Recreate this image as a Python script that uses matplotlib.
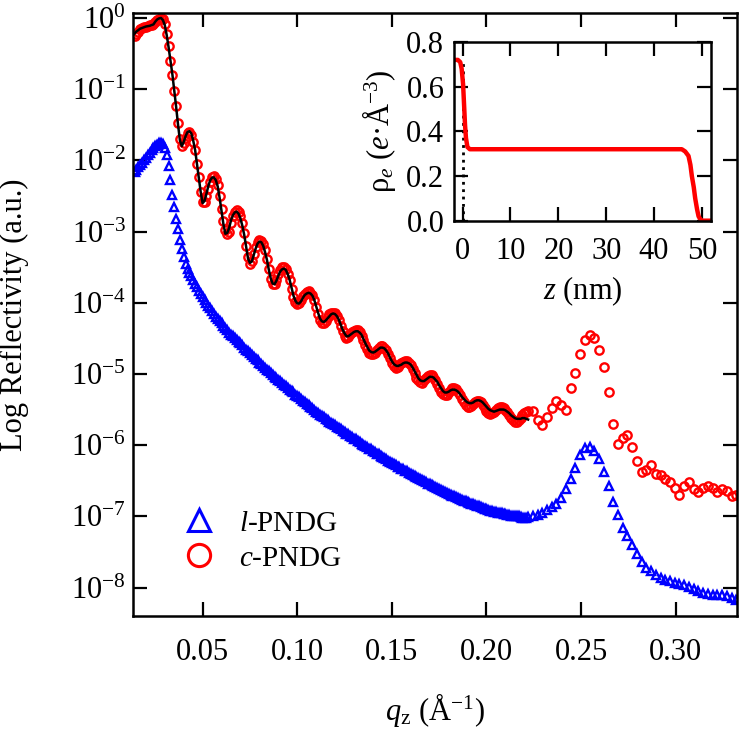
import numpy as np
import matplotlib
matplotlib.use('Agg')
import matplotlib.pyplot as plt
from matplotlib.lines import Line2D
from matplotlib.ticker import FixedLocator, FuncFormatter, NullLocator

plt.rcParams['font.family'] = ['Liberation Serif', 'DejaVu Serif']
plt.rcParams['mathtext.fontset'] = 'custom'
plt.rcParams['mathtext.rm'] = 'Liberation Serif'
plt.rcParams['mathtext.it'] = 'Liberation Serif:italic'
plt.rcParams['axes.unicode_minus'] = False

# q grid of the dense part, even thousandths
q_even = [0.014, 0.016, 0.018, 0.020, 0.022, 0.024, 0.026, 0.028, 0.030, 0.032,
          0.034, 0.036, 0.038, 0.040, 0.042, 0.044, 0.046, 0.048, 0.050, 0.052,
          0.054, 0.056, 0.058, 0.060, 0.062, 0.064, 0.066, 0.068, 0.070, 0.072,
          0.074, 0.076, 0.078, 0.080, 0.082, 0.084, 0.086, 0.088, 0.090, 0.092,
          0.094, 0.096, 0.098, 0.100, 0.102, 0.104, 0.106, 0.108, 0.110, 0.112,
          0.114, 0.116, 0.118, 0.120, 0.122, 0.124, 0.126, 0.128, 0.130, 0.132,
          0.134, 0.136, 0.138, 0.140, 0.142, 0.144, 0.146, 0.148, 0.150, 0.152,
          0.154, 0.156, 0.158, 0.160, 0.162, 0.164, 0.166, 0.168, 0.170, 0.172,
          0.174, 0.176, 0.178, 0.180, 0.182, 0.184, 0.186, 0.188, 0.190, 0.192,
          0.194, 0.196, 0.198, 0.200, 0.202, 0.204, 0.206, 0.208, 0.210, 0.212,
          0.214, 0.216, 0.218, 0.220, 0.222]
# q grid of the dense part, odd thousandths
q_odd = [0.015, 0.017, 0.019, 0.021, 0.023, 0.025, 0.027, 0.029, 0.031, 0.033,
         0.035, 0.037, 0.039, 0.041, 0.043, 0.045, 0.047, 0.049, 0.051, 0.053,
         0.055, 0.057, 0.059, 0.061, 0.063, 0.065, 0.067, 0.069, 0.071, 0.073,
         0.075, 0.077, 0.079, 0.081, 0.083, 0.085, 0.087, 0.089, 0.091, 0.093,
         0.095, 0.097, 0.099, 0.101, 0.103, 0.105, 0.107, 0.109, 0.111, 0.113,
         0.115, 0.117, 0.119, 0.121, 0.123, 0.125, 0.127, 0.129, 0.131, 0.133,
         0.135, 0.137, 0.139, 0.141, 0.143, 0.145, 0.147, 0.149, 0.151, 0.153,
         0.155, 0.157, 0.159, 0.161, 0.163, 0.165, 0.167, 0.169, 0.171, 0.173,
         0.175, 0.177, 0.179, 0.181, 0.183, 0.185, 0.187, 0.189, 0.191, 0.193,
         0.195, 0.197, 0.199, 0.201, 0.203, 0.205, 0.207, 0.209, 0.211, 0.213,
         0.215, 0.217, 0.219, 0.221]
# q grid of the sparser high-q part
q_high = [0.2245, 0.2270, 0.2295, 0.2320, 0.2345, 0.2370, 0.2395, 0.2420, 0.2445, 0.2470,
          0.2495, 0.2520, 0.2545, 0.2570, 0.2595, 0.2620, 0.2645, 0.2670, 0.2695, 0.2720,
          0.2745, 0.2770, 0.2795, 0.2820, 0.2845, 0.2870, 0.2895, 0.2920, 0.2945, 0.2970,
          0.2995, 0.3020, 0.3045, 0.3070, 0.3095, 0.3120, 0.3145, 0.3170, 0.3195, 0.3220,
          0.3245, 0.3270, 0.3295, 0.3320]

# log10 reflectivity, c-PNDG (red circles)
logR_c_even = [-0.25, -0.19, -0.14, -0.12, -0.10, -0.09, -0.03, 0.00, -0.08, -0.40,
               -0.80, -1.24, -1.70, -1.76, -1.62, -1.64, -1.86, -2.24, -2.58, -2.50,
               -2.30, -2.22, -2.35, -2.68, -2.98, -3.00, -2.78, -2.70, -2.78, -3.02,
               -3.36, -3.42, -3.22, -3.12, -3.18, -3.38, -3.66, -3.74, -3.60, -3.50,
               -3.52, -3.68, -3.92, -4.02, -3.96, -3.87, -3.84, -3.89, -4.06, -4.24,
               -4.28, -4.20, -4.14, -4.15, -4.24, -4.40, -4.49, -4.44, -4.39, -4.38,
               -4.46, -4.59, -4.70, -4.72, -4.66, -4.61, -4.63, -4.72, -4.85, -4.91,
               -4.88, -4.83, -4.82, -4.87, -4.99, -5.09, -5.12, -5.06, -5.02, -5.04,
               -5.14, -5.25, -5.30, -5.26, -5.20, -5.21, -5.30, -5.40, -5.47, -5.45,
               -5.39, -5.38, -5.44, -5.52, -5.56, -5.53, -5.48, -5.47, -5.50, -5.58,
               -5.65, -5.67, -5.62, -5.55, -5.52]
logR_c_odd = [-0.22, -0.16, -0.13, -0.11, -0.10, -0.06, -0.01, -0.02, -0.22, -0.60,
              -1.02, -1.48, -1.80, -1.68, -1.60, -1.74, -2.05, -2.44, -2.58, -2.40,
              -2.24, -2.26, -2.50, -2.85, -3.04, -2.88, -2.72, -2.72, -2.88, -3.20,
              -3.46, -3.32, -3.15, -3.13, -3.26, -3.52, -3.74, -3.68, -3.54, -3.50,
              -3.59, -3.80, -3.99, -4.00, -3.91, -3.85, -3.86, -3.96, -4.16, -4.28,
              -4.25, -4.16, -4.14, -4.18, -4.32, -4.46, -4.48, -4.41, -4.38, -4.41,
              -4.52, -4.65, -4.72, -4.70, -4.63, -4.61, -4.67, -4.78, -4.89, -4.90,
              -4.85, -4.82, -4.84, -4.93, -5.05, -5.11, -5.09, -5.03, -5.02, -5.09,
              -5.20, -5.28, -5.29, -5.23, -5.20, -5.25, -5.35, -5.44, -5.47, -5.42,
              -5.38, -5.40, -5.48, -5.55, -5.55, -5.50, -5.47, -5.48, -5.54, -5.62,
              -5.67, -5.65, -5.58, -5.53]
logR_c_high = [-5.52, -5.64, -5.72, -5.60, -5.48, -5.38, -5.44, -5.50, -5.20, -4.98,
               -4.72, -4.53, -4.45, -4.50, -4.66, -4.90, -5.25, -5.70, -5.98, -5.90,
               -5.86, -6.02, -6.22, -6.38, -6.35, -6.28, -6.40, -6.42, -6.48, -6.52,
               -6.60, -6.70, -6.58, -6.52, -6.62, -6.66, -6.60, -6.58, -6.60, -6.66,
               -6.62, -6.64, -6.72, -6.70]

# log10 reflectivity, fit to c-PNDG (black line)
logR_fit_even = [-0.22, -0.17, -0.14, -0.12, -0.11, -0.09, -0.02, 0.00, -0.10, -0.41,
                 -0.79, -1.25, -1.72, -1.74, -1.60, -1.62, -1.85, -2.25, -2.60, -2.47,
                 -2.28, -2.24, -2.37, -2.72, -3.03, -2.95, -2.77, -2.72, -2.82, -3.05,
                 -3.38, -3.42, -3.24, -3.14, -3.20, -3.40, -3.66, -3.74, -3.62, -3.53,
                 -3.54, -3.68, -3.90, -4.01, -3.98, -3.89, -3.86, -3.90, -4.05, -4.22,
                 -4.27, -4.22, -4.16, -4.16, -4.24, -4.38, -4.47, -4.45, -4.41, -4.40,
                 -4.45, -4.57, -4.67, -4.70, -4.67, -4.63, -4.64, -4.71, -4.82, -4.88,
                 -4.88, -4.85, -4.84, -4.87, -4.96, -5.06, -5.10, -5.08, -5.04, -5.05,
                 -5.11, -5.20, -5.26, -5.25, -5.22, -5.23, -5.28, -5.35, -5.40, -5.41,
                 -5.38, -5.37, -5.40, -5.46, -5.51, -5.53, -5.51, -5.50, -5.51, -5.55,
                 -5.60, -5.63, -5.63, -5.62, -5.64]
logR_fit_odd = [-0.19, -0.15, -0.13, -0.115, -0.10, -0.05, -0.005, -0.03, -0.24, -0.60,
                -1.02, -1.50, -1.80, -1.66, -1.59, -1.72, -2.05, -2.45, -2.57, -2.36,
                -2.24, -2.28, -2.53, -2.90, -3.02, -2.84, -2.73, -2.75, -2.92, -3.22,
                -3.44, -3.33, -3.17, -3.15, -3.29, -3.54, -3.73, -3.69, -3.56, -3.52,
                -3.60, -3.79, -3.97, -4.01, -3.93, -3.87, -3.87, -3.96, -4.14, -4.26,
                -4.25, -4.19, -4.15, -4.19, -4.31, -4.43, -4.47, -4.43, -4.40, -4.42,
                -4.51, -4.62, -4.69, -4.69, -4.65, -4.63, -4.67, -4.77, -4.86, -4.89,
                -4.87, -4.84, -4.85, -4.91, -5.01, -5.09, -5.10, -5.06, -5.04, -5.08,
                -5.16, -5.24, -5.26, -5.23, -5.22, -5.25, -5.32, -5.38, -5.41, -5.40,
                -5.37, -5.38, -5.43, -5.49, -5.52, -5.52, -5.50, -5.50, -5.53, -5.58,
                -5.62, -5.63, -5.62, -5.63]

# log10 reflectivity, l-PNDG (blue triangles)
logR_l_even = [-2.17, -2.10, -2.03, -1.96, -1.89, -1.83, -1.78, -1.75, -1.82, -2.08,
               -2.48, -2.82, -3.12, -3.36, -3.52, -3.63, -3.73, -3.83, -3.92, -4.00,
               -4.08, -4.16, -4.23, -4.29, -4.35, -4.42, -4.47, -4.52, -4.57, -4.63,
               -4.68, -4.73, -4.79, -4.84, -4.89, -4.94, -4.99, -5.04, -5.08, -5.13,
               -5.17, -5.22, -5.26, -5.31, -5.35, -5.40, -5.44, -5.48, -5.53, -5.57,
               -5.61, -5.65, -5.69, -5.72, -5.76, -5.80, -5.84, -5.87, -5.91, -5.94,
               -5.98, -6.01, -6.05, -6.08, -6.12, -6.15, -6.18, -6.22, -6.25, -6.28,
               -6.31, -6.34, -6.37, -6.40, -6.43, -6.46, -6.49, -6.52, -6.55, -6.58,
               -6.60, -6.63, -6.66, -6.68, -6.71, -6.73, -6.75, -6.78, -6.80, -6.82,
               -6.84, -6.86, -6.88, -6.90, -6.92, -6.94, -6.95, -6.96, -6.97, -6.98,
               -6.99, -7.00, -7.01, -7.02, -7.01]
logR_l_odd = [-2.13, -2.06, -2.00, -1.92, -1.86, -1.80, -1.76, -1.77, -1.93, -2.28,
              -2.66, -2.97, -3.25, -3.45, -3.58, -3.68, -3.78, -3.88, -3.96, -4.04,
              -4.12, -4.20, -4.26, -4.32, -4.38, -4.45, -4.50, -4.55, -4.60, -4.66,
              -4.71, -4.76, -4.81, -4.86, -4.91, -4.96, -5.02, -5.06, -5.10, -5.15,
              -5.20, -5.24, -5.29, -5.33, -5.38, -5.42, -5.46, -5.51, -5.55, -5.59,
              -5.63, -5.67, -5.70, -5.74, -5.78, -5.82, -5.85, -5.89, -5.92, -5.96,
              -6.00, -6.03, -6.06, -6.10, -6.13, -6.17, -6.20, -6.23, -6.27, -6.30,
              -6.33, -6.36, -6.39, -6.42, -6.45, -6.48, -6.51, -6.54, -6.56, -6.59,
              -6.62, -6.64, -6.67, -6.70, -6.72, -6.74, -6.77, -6.79, -6.81, -6.83,
              -6.85, -6.87, -6.89, -6.91, -6.93, -6.94, -6.96, -6.97, -6.98, -6.99,
              -7.00, -7.00, -7.02, -7.02]
logR_l_high = [-7.00, -6.98, -6.95, -6.91, -6.87, -6.82, -6.74, -6.62, -6.48, -6.32,
               -6.14, -6.04, -6.02, -6.08, -6.20, -6.38, -6.58, -6.80, -6.98, -7.16,
               -7.28, -7.40, -7.53, -7.64, -7.72, -7.77, -7.82, -7.86, -7.89, -7.91,
               -7.93, -7.95, -7.97, -7.99, -8.02, -8.05, -8.07, -8.09, -8.10, -8.10,
               -8.11, -8.12, -8.15, -8.17]

# electron density profile (inset)
z_nm = [-1.6, -1.0, -0.5, -0.2, 0.1, 0.3, 0.5, 0.7, 1.0, 1.5, 5.0, 10.0, 20.0, 30.0,
        40.0, 45.0, 45.8, 46.5, 47.2, 47.6, 47.9, 48.3, 48.6, 49.0, 49.3, 49.7,
        50.0, 51.0, 51.7]
rho_e = [0.72, 0.72, 0.71, 0.68, 0.61, 0.52, 0.43, 0.37, 0.33, 0.32, 0.32, 0.32, 0.32,
         0.32, 0.32, 0.32, 0.32, 0.31, 0.29, 0.25, 0.20, 0.15, 0.10, 0.05, 0.02,
         0.005, 0.0, 0.0, 0.0]

fig = plt.figure(figsize=(7.41, 7.31), dpi=100)
ax = fig.add_axes([0.1795, 0.1573, 0.8151, 0.8249])

q_all = q_even + q_odd + q_high
ax.plot(q_all, 10 ** np.array(logR_l_even + logR_l_odd + logR_l_high), ls='none',
        marker='^', ms=5.8, mfc='none', mec='#0000ff', mew=1.7)
ax.plot(q_all, 10 ** np.array(logR_c_even + logR_c_odd + logR_c_high), ls='none',
        marker='o', ms=6, mfc='none', mec='#ff0000', mew=1.7)

# fit line, sorted along q
q_fit = np.array(q_even + q_odd)
logR_fit = np.array(logR_fit_even + logR_fit_odd)
order = np.argsort(q_fit)
ax.plot(q_fit[order], 10 ** logR_fit[order], color='k', lw=1.8)

ax.set_yscale('log')
ax.set_xlim(0.0132, 0.3324)
ax.set_ylim(10 ** -8.4, 10 ** 0.07)
ax.xaxis.set_major_locator(FixedLocator([0.05, 0.10, 0.15, 0.20, 0.25, 0.30]))
ax.xaxis.set_major_formatter(FuncFormatter(lambda v, p: '%.2f' % v))
ax.yaxis.set_major_locator(FixedLocator([10.0 ** k for k in range(-8, 1)]))
ax.yaxis.set_major_formatter(FuncFormatter(
    lambda v, p: r'$\mathregular{10^{%d}}$' % round(np.log10(v))))
ax.yaxis.set_minor_locator(NullLocator())
ax.tick_params(which='both', direction='in', length=10, width=1.6,
               top=True, right=True, labelsize=22)
ax.tick_params(axis='x', pad=16)
ax.tick_params(axis='y', pad=5)
for s in ax.spines.values():
    s.set_linewidth(1.8)

ax.set_xlabel(r'$q_{\mathrm{z}}$ (Å$^{-1}$)', fontsize=22, labelpad=17)
ax.set_ylabel('Log Reflectivity (a.u.)', fontsize=22)
ax.yaxis.set_label_coords(-0.172, 0.5)

handles = [Line2D([], [], ls='none', marker='^', ms=16, mfc='none', mec='#0000ff', mew=2.2),
           Line2D([], [], ls='none', marker='o', ms=16, mfc='none', mec='#ff0000', mew=2.2)]
ax.legend(handles, [r'$l$-PNDG', r'$c$-PNDG'], loc='lower left',
          bbox_to_anchor=(0.03, 0.03), frameon=False, fontsize=21,
          handletextpad=0.6, labelspacing=0.3, handlelength=1.5)

# inset: electron density profile
ins = fig.add_axes([0.6127, 0.6981, 0.3468, 0.2444])
ins.plot([0, 0], [0, 0.72], color='k', ls=':', lw=2)
ins.plot(z_nm, rho_e, color='#ff0000', lw=3.2)
ins.set_xlim(-1.8, 51.9)
ins.set_ylim(0, 0.8)
ins.set_xticks([0, 10, 20, 30, 40, 50])
ins.set_yticks([0.0, 0.2, 0.4, 0.6, 0.8])
ins.yaxis.set_major_formatter(FuncFormatter(lambda v, p: '%.1f' % v))
ins.tick_params(direction='in', length=10, width=1.6, top=True, right=True,
                labelsize=22)
ins.tick_params(axis='x', pad=12)
ins.tick_params(axis='y', pad=7)
for s in ins.spines.values():
    s.set_linewidth(1.8)
ins.set_xlabel(r'$z$ (nm)', fontsize=22, labelpad=6)
ins.set_ylabel(r'ρ$_{e}$ ($e$·Å$^{-3}$)', fontsize=22, labelpad=6)

fig.savefig('out.png', dpi=100)
